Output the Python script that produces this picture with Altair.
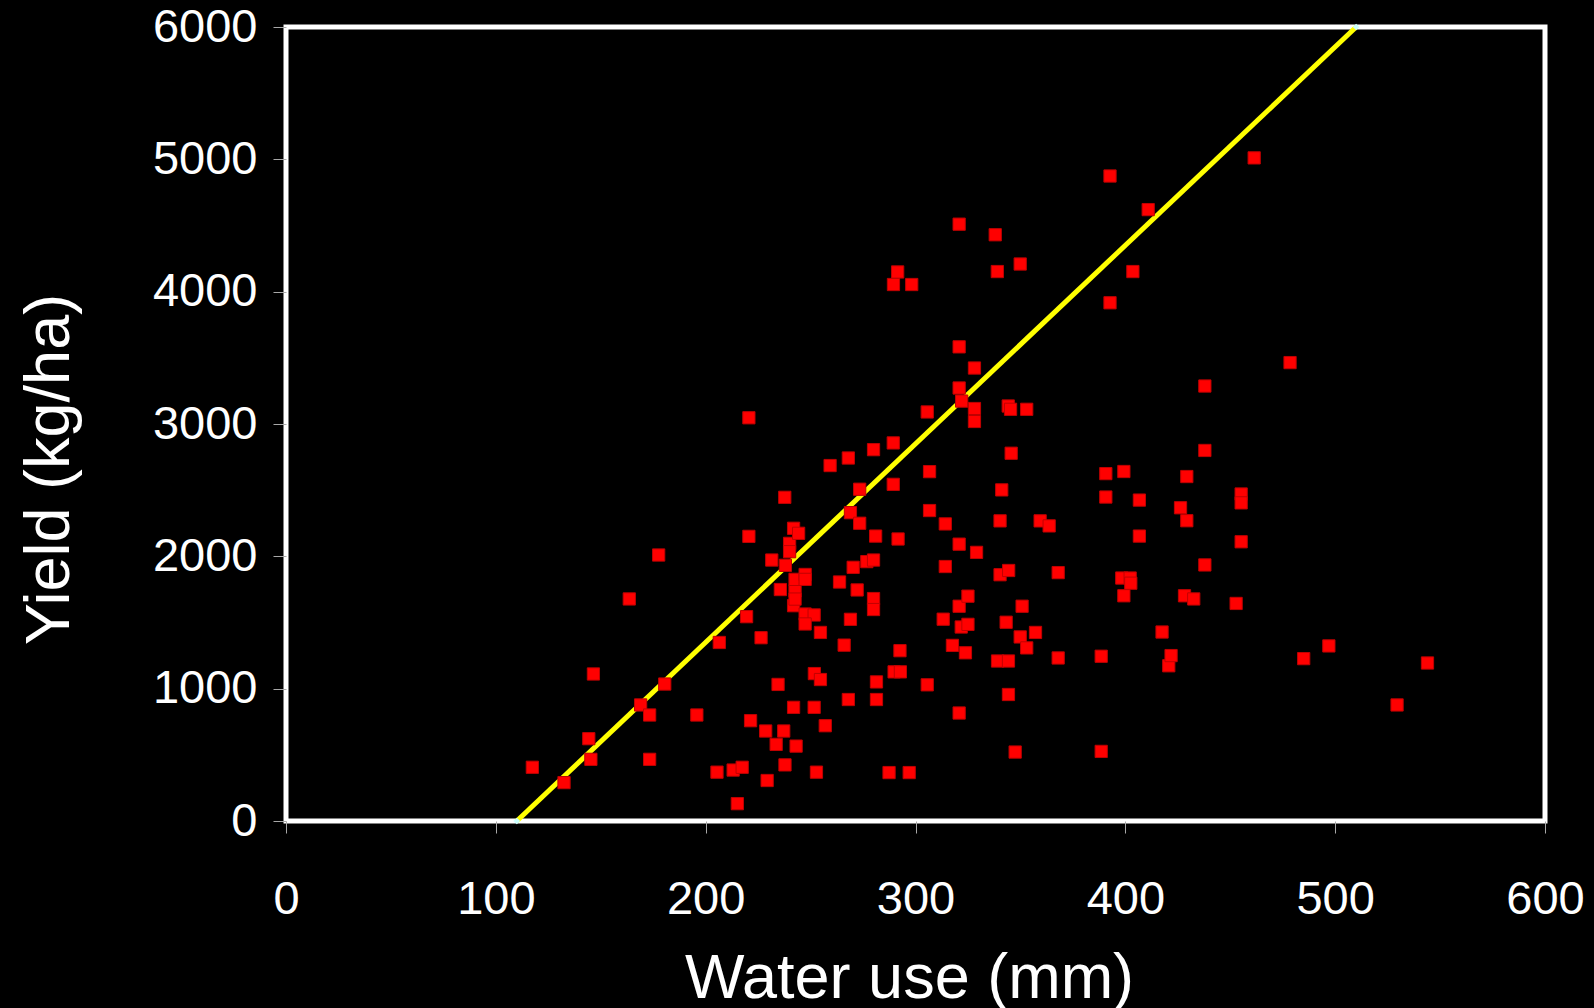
import altair as alt
import pandas as pd

# Seasonal water use (mm) and grain yield (kg/ha) for each site-year
water_use = [
    117.4, 132.5, 144.3, 145.3, 146.5, 163.6, 169.0, 173.3, 173.3, 177.6,
    180.5, 195.8, 205.4, 206.5, 213.1, 215.1, 217.4, 219.5, 220.6, 220.6,
    221.4, 226.4, 228.6, 229.3, 231.5, 233.6, 234.5, 235.6, 237.2, 237.7,
    237.8, 238.0, 240.0, 240.0, 241.9, 244.3, 241.9, 242.6, 242.6, 242.6,
    241.9, 243.1, 247.4, 247.4, 247.4, 251.7, 247.4, 251.8, 254.7, 251.7,
    252.8, 254.7, 257.0, 259.3, 263.8, 266.0, 268.0, 268.0, 269.0, 269.0,
    270.3, 272.2, 273.4, 273.4, 276.8, 280.0, 280.0, 280.0, 280.0, 281.4,
    281.4, 281.0,
    287.4, 289.4, 289.4, 289.5, 291.5, 291.7, 289.8, 292.8, 292.6, 297.0,
    298.2, 305.6, 305.6, 306.7, 306.7, 313.2, 314.2, 314.2, 317.6, 320.8,
    320.8, 320.8, 322.0, 320.8, 320.8, 320.8, 321.8, 323.8, 325.0, 325.0,
    328.1, 328.1, 328.1, 329.1, 338.0, 339.0, 339.1, 340.3, 340.3, 341.1,
    343.2, 344.2, 345.3, 344.4, 344.3, 344.3, 345.6, 347.5, 349.9, 349.9,
    350.8, 353.0, 353.0, 357.2, 359.4, 363.7, 368.0, 368.0,
    388.5, 388.5, 390.7, 390.7, 392.7, 392.7, 398.3, 399.3, 399.3, 402.3,
    402.6, 403.6, 406.7, 406.7, 410.9, 417.5, 420.7, 421.8, 426.3, 428.2,
    429.3, 429.3, 432.6, 437.9, 437.9, 437.9, 452.8, 455.2, 455.2, 455.2,
    461.4, 478.5, 485.0, 497.0, 529.5, 544.0,
]
grain_yield = [
    406, 290, 622, 466, 1111, 1678, 877, 801, 466, 2010,
    1035, 801, 369, 1349, 385, 131, 406, 1544, 3047, 2151,
    758, 1385, 680, 306, 1972, 579, 1032, 1749, 680, 2446,
    424, 1932, 2098, 2035, 2212, 2174, 1627, 1739, 1677, 1826,
    859, 566, 1863, 1826, 1564, 1557, 1489, 1114, 1069, 859,
    369, 1425, 720, 2686, 1806, 1329, 2743, 918, 2330, 1524,
    1917, 1746, 2507, 2250, 1960, 1972, 2806, 1681, 1598, 1051,
    918, 2153,
    366, 2857, 2544, 4054, 4149, 2131, 1127, 1127, 1287, 366,
    4054, 3091, 1029, 2640, 2346, 1525, 2245, 1923, 1327, 4510,
    3583, 3272, 3173, 2092, 1623, 816, 1466, 1271, 1699, 1486,
    3423, 3117, 3019, 2030, 4430, 4152, 1209, 2268, 1861, 2502,
    1502, 3136, 3111, 1893, 1209, 956, 2779, 521, 4209, 1391,
    1623, 3111, 1308, 1425, 2268, 2230, 1877, 1232,
    1245, 526, 2625, 2448, 4874, 3916, 1836, 2641, 1702, 1836,
    1797, 4152, 2425, 2153, 4620, 1428, 1173, 1250, 2367, 1702,
    2603, 2269, 1678, 3287, 2800, 1935, 1644, 2471, 2404, 2110,
    5011, 3464, 1227, 1323, 877, 1194,
]

# Water-limited potential yield boundary
boundary_water = [110, 510]
boundary_yield = [0, 6000]

x_ticks = [0, 100, 200, 300, 400, 500, 600]
y_ticks = [0, 1000, 2000, 3000, 4000, 5000, 6000]

points = pd.DataFrame({"water": water_use, "yield": grain_yield})
boundary = pd.DataFrame({"water": boundary_water, "yield": boundary_yield})

FONT = "Liberation Sans"
x_scale = alt.Scale(domain=[0, 600], nice=False, zero=False)
y_scale = alt.Scale(domain=[0, 6000], nice=False)

x_axis = alt.Axis(
    values=x_ticks, format="d", grid=False, domain=False,
    tickSize=12, tickColor="#a8a8a8", tickWidth=1,
    labelFont=FONT, labelFontSize=47, labelColor="white",
    labelBaseline="alphabetic", labelPadding=80,
    labelFlush=False, labelOverlap=False,
    title="Water use (mm)", titleFont=FONT, titleFontSize=63,
    titleFontWeight="normal", titleColor="white",
    titleX=623, titleY=176, titleAlign="center", titleBaseline="alphabetic",
)
y_axis = alt.Axis(
    values=y_ticks, format="d", grid=False, domain=False,
    tickSize=13, tickColor="#a8a8a8", tickWidth=1,
    labelFont=FONT, labelFontSize=47, labelColor="white",
    labelPadding=16, labelFlush=False, labelOverlap=False,
    title="Yield (kg/ha)", titleFont=FONT, titleFontSize=63,
    titleFontWeight="normal", titleColor="white",
    titleAngle=270, titleX=-218, titleY=442,
    titleAlign="center", titleBaseline="alphabetic",
)

line = alt.Chart(boundary).mark_line(color="#FFFF00", strokeWidth=5).encode(
    x=alt.X("water:Q", scale=x_scale, axis=x_axis),
    y=alt.Y("yield:Q", scale=y_scale, axis=y_axis),
)
ends = alt.Chart(boundary).mark_point(
    shape="diamond", filled=True, color="#CCFFFF", size=45, opacity=1
).encode(
    x=alt.X("water:Q", scale=x_scale),
    y=alt.Y("yield:Q", scale=y_scale),
)
squares = alt.Chart(points).mark_square(
    color="#FF0000", stroke="#C00000", strokeWidth=1, size=150, opacity=1
).encode(
    x=alt.X("water:Q", scale=x_scale),
    y=alt.Y("yield:Q", scale=y_scale),
)

chart = (
    alt.layer(line, ends, squares)
    .properties(
        width=1259, height=794,
        background="black",
        autosize=alt.AutoSizeParams(type="none"),
        padding={"left": 286, "top": 27, "right": 49, "bottom": 187},
    )
    .configure_view(stroke="white", strokeWidth=5, fill="black")
)

chart.save("out.html", embed_options={"renderer": "svg", "actions": False})
